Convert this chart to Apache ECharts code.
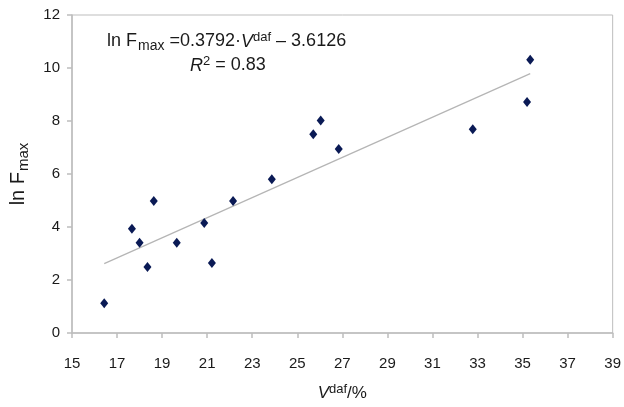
<!DOCTYPE html>
<html>
<head>
<meta charset="utf-8">
<script src="https://cdn.jsdelivr.net/npm/echarts@6/dist/echarts.min.js"></script>
<style>
  html, body { margin: 0; padding: 0; background: #fff; }
  #chart { width: 624px; height: 407px; }
</style>
</head>
<body>
<div id="chart"></div>
<script>
// Volatile matter content V_daf (%) and ln F_max for each sample
const vdaf = [16.43, 17.66, 18.0, 18.35, 18.63, 19.65, 20.87, 21.21, 22.15, 23.87, 25.71, 26.04, 26.84, 32.79, 35.2, 35.34];
const lnFmax = [1.12, 3.93, 3.41, 2.49, 4.98, 3.41, 4.15, 2.64, 4.98, 5.80, 7.50, 8.02, 6.94, 7.69, 8.72, 10.31];

// Linear fit: ln F_max = slope * V_daf + intercept
const slope = 0.3792;
const intercept = -3.6126;
const r2 = 0.83;

const xTicks = [15, 17, 19, 21, 23, 25, 27, 29, 31, 33, 35, 37, 39];
const yTicks = [0, 2, 4, 6, 8, 10, 12];

const points = vdaf.map((v, i) => [v, lnFmax[i]]);
const xMin = Math.min(...vdaf), xMax = Math.max(...vdaf);
const fitLine = [[xMin, slope * xMin + intercept], [xMax, slope * xMax + intercept]];

const FONT = '"Liberation Sans", Arial, Helvetica, sans-serif';
const TXT = '#1a1a1a';
const AXIS = '#bdbdbd';

const chart = echarts.init(document.getElementById('chart'), null, { renderer: 'canvas' });
chart.setOption({
  animation: false,
  backgroundColor: '#fff',
  grid: { left: 71, right: 9, top: 15, bottom: 66, show: true, borderColor: AXIS, borderWidth: 1 },
  xAxis: {
    type: 'value',
    min: xTicks[0], max: xTicks[xTicks.length - 1], interval: 2,
    axisLine: { show: true, lineStyle: { color: AXIS, width: 1.5 } },
    axisTick: { show: true, length: 5, lineStyle: { color: AXIS, width: 1.5 } },
    splitLine: { show: false },
    axisLabel: { color: TXT, fontSize: 15, fontFamily: FONT, margin: 23 },
    name: '{it|V}{sup|daf}{n|/%}',
    nameLocation: 'middle',
    nameGap: 50,
    nameTextStyle: {
      rich: {
        it: { fontSize: 17, fontStyle: 'italic', fontFamily: FONT, color: TXT },
        sup: { fontSize: 13, fontFamily: FONT, color: TXT, padding: [0, 0, 8, 0] },
        n: { fontSize: 17, fontFamily: FONT, color: TXT }
      }
    }
  },
  yAxis: {
    type: 'value',
    min: yTicks[0], max: yTicks[yTicks.length - 1], interval: 2,
    axisLine: { show: true, lineStyle: { color: AXIS, width: 1.5 } },
    axisTick: { show: true, length: 5, lineStyle: { color: AXIS, width: 1.5 } },
    splitLine: { show: false },
    axisLabel: { color: TXT, fontSize: 15, fontFamily: FONT, margin: 12 },
    name: '{n|ln F}{sub|max}',
    nameLocation: 'middle',
    nameGap: 41,
    nameRotate: 90,
    nameTextStyle: {
      rich: {
        n: { fontSize: 20, fontFamily: FONT, color: TXT },
        sub: { fontSize: 15, fontFamily: FONT, color: TXT, padding: [11, 0, 0, 1] }
      }
    }
  },
  graphic: [
    {
      type: 'text',
      left: 107, top: 31,
      style: {
        text: '{n|ln F}{sub|max}{n| =0.3792·}{it|V}{sup|daf}{n| – 3.6126}',
        rich: {
          n: { fontSize: 18, fontFamily: FONT, fill: TXT },
          it: { fontSize: 18, fontStyle: 'italic', fontFamily: FONT, fill: TXT },
          sub: { fontSize: 14, fontFamily: FONT, fill: TXT, padding: [10, 0, 0, 1] },
          sup: { fontSize: 13, fontFamily: FONT, fill: TXT, padding: [0, 0, 8, 0] }
        }
      }
    },
    {
      type: 'text',
      left: 190, top: 55,
      style: {
        text: '{it|R}{sup|2}{n| = 0.83}',
        rich: {
          n: { fontSize: 18, fontFamily: FONT, fill: TXT },
          it: { fontSize: 18, fontStyle: 'italic', fontFamily: FONT, fill: TXT },
          sup: { fontSize: 13, fontFamily: FONT, fill: TXT, padding: [0, 0, 8, 0] }
        }
      }
    }
  ],
  series: [
    {
      type: 'line',
      data: fitLine,
      showSymbol: false,
      symbol: 'none',
      lineStyle: { color: '#b5b5b5', width: 1.2 },
      z: 1,
      silent: true
    },
    {
      type: 'scatter',
      data: points,
      symbol: 'diamond',
      symbolSize: [8, 10],
      itemStyle: { color: '#0a1a55', opacity: 1 },
      z: 3
    }
  ]
});
</script>
</body>
</html>
